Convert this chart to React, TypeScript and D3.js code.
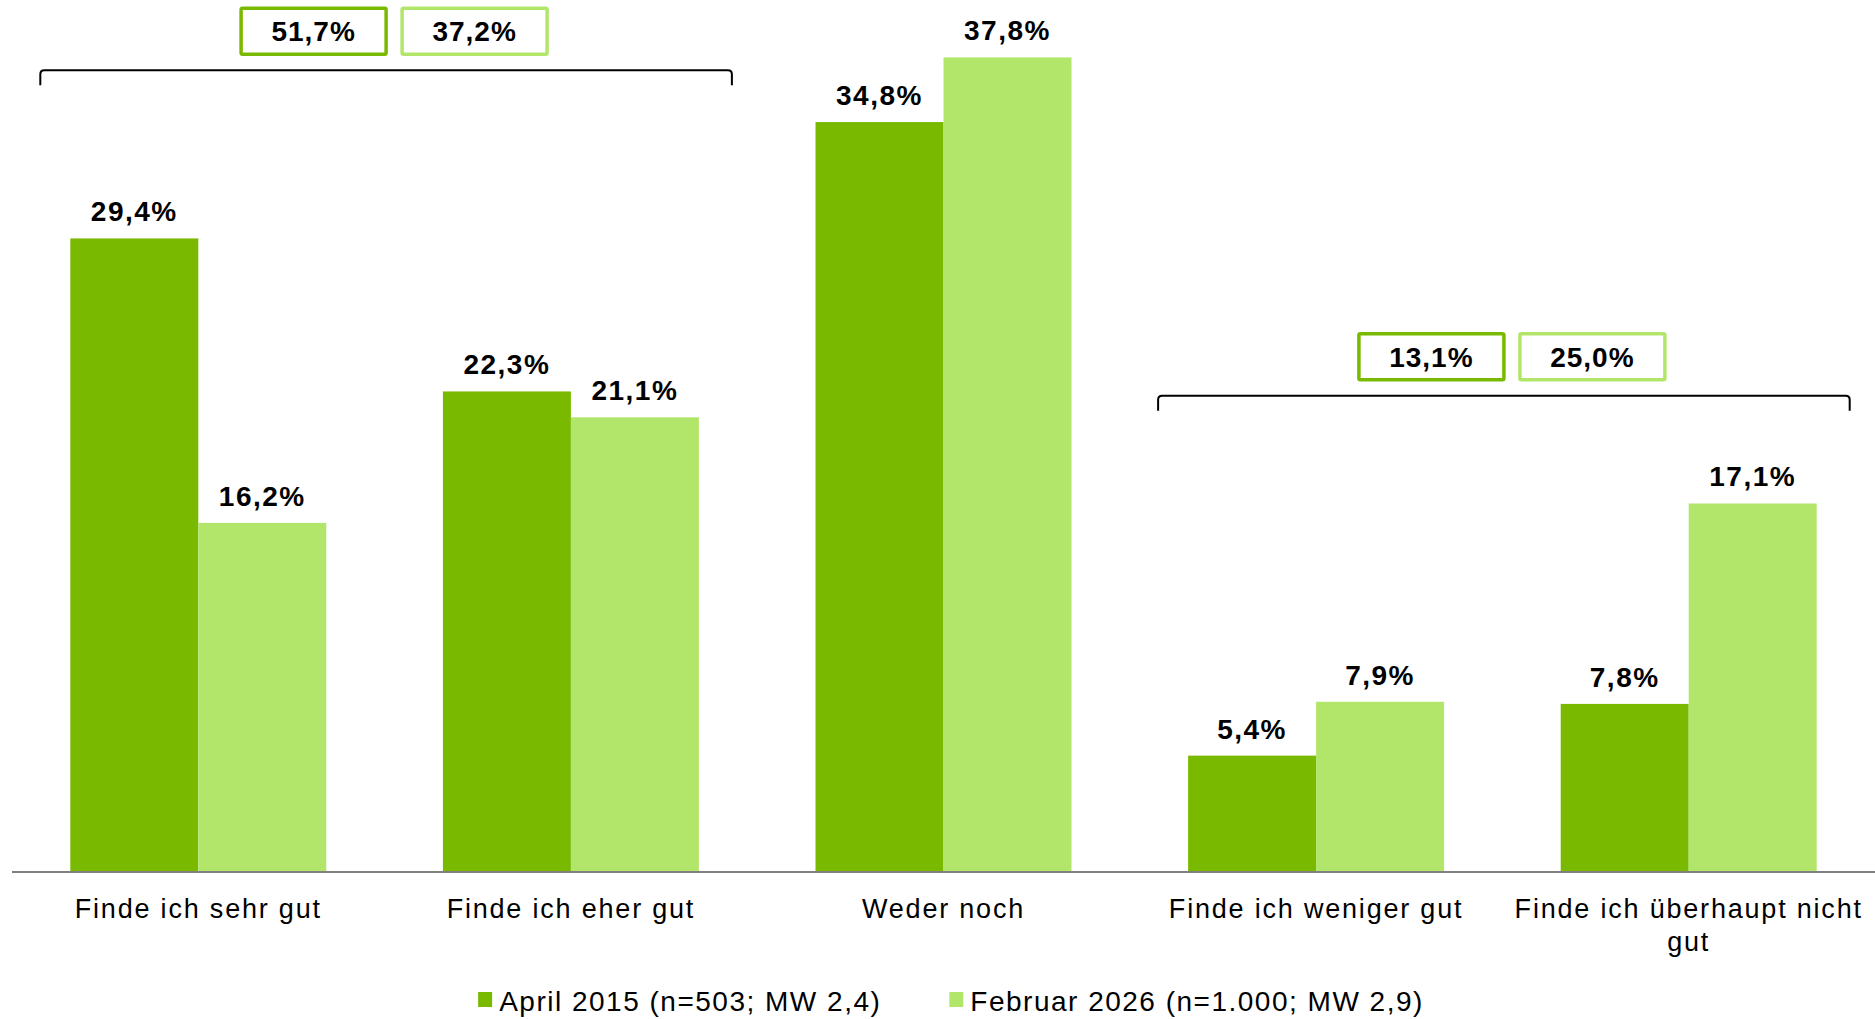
import React, { useRef, useEffect } from 'react';
import * as d3 from 'd3';

const categories = [
  'Finde ich sehr gut',
  'Finde ich eher gut',
  'Weder noch',
  'Finde ich weniger gut',
  'Finde ich überhaupt nicht gut',
];
const seriesNames = ['April 2015 (n=503; MW 2,4)', 'Februar 2026 (n=1.000; MW 2,9)'];
const april2015 = [29.4, 22.3, 34.8, 5.4, 7.8];
const februar2026 = [16.2, 21.1, 37.8, 7.9, 17.1];
const colors = ['#79B900', '#B2E66B'];

// summary brackets: first/last category index, level (in %), totals per series
const bracketFrom = [0, 3];
const bracketTo = [1, 4];
const bracketLevel = [37.2, 22.1];
const bracketTotals = [
  [51.7, 37.2],
  [13.1, 25.0],
];

const fmt = (v: number) => v.toFixed(1).replace('.', ',') + '%';

const W = 1875;
const H = 1019;

const App = () => {
  const ref = useRef<SVGSVGElement>(null);

  useEffect(() => {
    const svg = d3.select(ref.current);
    svg.selectAll('*').remove();

    const baseY = 872;
    const x = d3.scaleBand<string>().domain(categories).range([12, W]).paddingInner(0.313).paddingOuter(0.1565);
    const x1 = d3.scaleBand<number>().domain([0, 1]).range([0, x.bandwidth()]);
    const y = d3.scaleLinear().domain([0, 40]).range([baseY, baseY - 862]);

    const series = [april2015, februar2026];

    // bars
    series.forEach((vals, s) => {
      const g = svg.append('g');
      g.selectAll('rect')
        .data(vals)
        .join('rect')
        .attr('x', (d, i) => x(categories[i])! + x1(s)!)
        .attr('y', (d) => y(d))
        .attr('width', x1.bandwidth())
        .attr('height', (d) => baseY - y(d))
        .attr('fill', colors[s]);

      g.selectAll('text')
        .data(vals)
        .join('text')
        .attr('x', (d, i) => x(categories[i])! + x1(s)! + x1.bandwidth() / 2)
        .attr('y', (d) => y(d) - 17)
        .attr('text-anchor', 'middle')
        .attr('font-family', 'Liberation Sans, Arial, sans-serif')
        .attr('font-weight', 'bold')
        .attr('font-size', 28)
        .attr('letter-spacing', 1.5)
        .attr('fill', '#000')
        .text((d) => fmt(d));
    });

    // axis line
    svg.append('line')
      .attr('x1', 12).attr('x2', W)
      .attr('y1', baseY).attr('y2', baseY)
      .attr('stroke', '#808080').attr('stroke-width', 2);

    // category labels
    const labels = svg.append('g');
    categories.forEach((c) => {
      const cx = x(c)! + x.bandwidth() / 2;
      const t = labels.append('text')
        .attr('x', cx)
        .attr('y', 918)
        .attr('text-anchor', 'middle')
        .attr('font-family', 'Liberation Sans, Arial, sans-serif')
        .attr('font-size', 27)
        .attr('letter-spacing', 1.8)
        .attr('fill', '#000');
      const words = c.split(' ');
      let line: string[] = [];
      let tspan = t.append('tspan').attr('x', cx).attr('dy', 0);
      words.forEach((w) => {
        line.push(w);
        tspan.text(line.join(' '));
        if ((tspan.node() as SVGTSpanElement).getComputedTextLength() > x.step() && line.length > 1) {
          line.pop();
          tspan.text(line.join(' '));
          line = [w];
          tspan = t.append('tspan').attr('x', cx).attr('dy', 33).text(w);
        }
      });
    });

    // brackets with totals
    bracketFrom.forEach((from, b) => {
      const x0 = x(categories[from])! - 30;
      const xe = x(categories[bracketTo[b]])! + x.bandwidth() + 33;
      const by = y(bracketLevel[b]);
      const r = 4;
      svg.append('path')
        .attr('d', `M${x0},${by + 15} L${x0},${by + r} Q${x0},${by} ${x0 + r},${by} L${xe - r},${by} Q${xe},${by} ${xe},${by + r} L${xe},${by + 15}`)
        .attr('fill', 'none')
        .attr('stroke', '#000')
        .attr('stroke-width', 2);

      const cx = (x0 + xe) / 2 + 8;
      const bw = 145;
      const bh = 46;
      bracketTotals[b].forEach((v, s) => {
        const bx = s === 0 ? cx - 8 - bw : cx + 8;
        const top = by - 16 - bh;
        svg.append('rect')
          .attr('x', bx).attr('y', top)
          .attr('width', bw).attr('height', bh)
          .attr('rx', 1.5)
          .attr('fill', '#fff')
          .attr('stroke', colors[s])
          .attr('stroke-width', 3.5);
        svg.append('text')
          .attr('x', bx + bw / 2)
          .attr('y', top + bh / 2 + 10)
          .attr('text-anchor', 'middle')
          .attr('font-family', 'Liberation Sans, Arial, sans-serif')
          .attr('font-weight', 'bold')
          .attr('font-size', 28)
          .attr('letter-spacing', 1)
          .attr('fill', '#000')
          .text(fmt(v));
      });
    });

    // legend
    const legend = svg.append('g');
    const items = seriesNames.map((name, s) => {
      const g = legend.append('g');
      g.append('rect').attr('x', 0).attr('y', -9).attr('width', 14).attr('height', 15).attr('fill', colors[s]);
      const t = g.append('text')
        .attr('x', 21).attr('y', 10)
        .attr('font-family', 'Liberation Sans, Arial, sans-serif')
        .attr('font-size', 28)
        .attr('letter-spacing', 1.5)
        .attr('fill', '#000')
        .text(name);
      return { g, w: 21 + (t.node() as SVGTextElement).getComputedTextLength() };
    });
    const itemGap = 68;
    const total = items.reduce((a, it) => a + it.w, 0) + itemGap * (items.length - 1);
    let lx = 951 - total / 2;
    items.forEach((it) => {
      it.g.attr('transform', `translate(${lx},1001)`);
      lx += it.w + itemGap;
    });
  }, []);

  return (
    <svg
      ref={ref}
      width={W}
      height={H}
      style={{ position: 'absolute', left: 0, top: 0, background: '#fff' }}
    />
  );
};

export default App;
